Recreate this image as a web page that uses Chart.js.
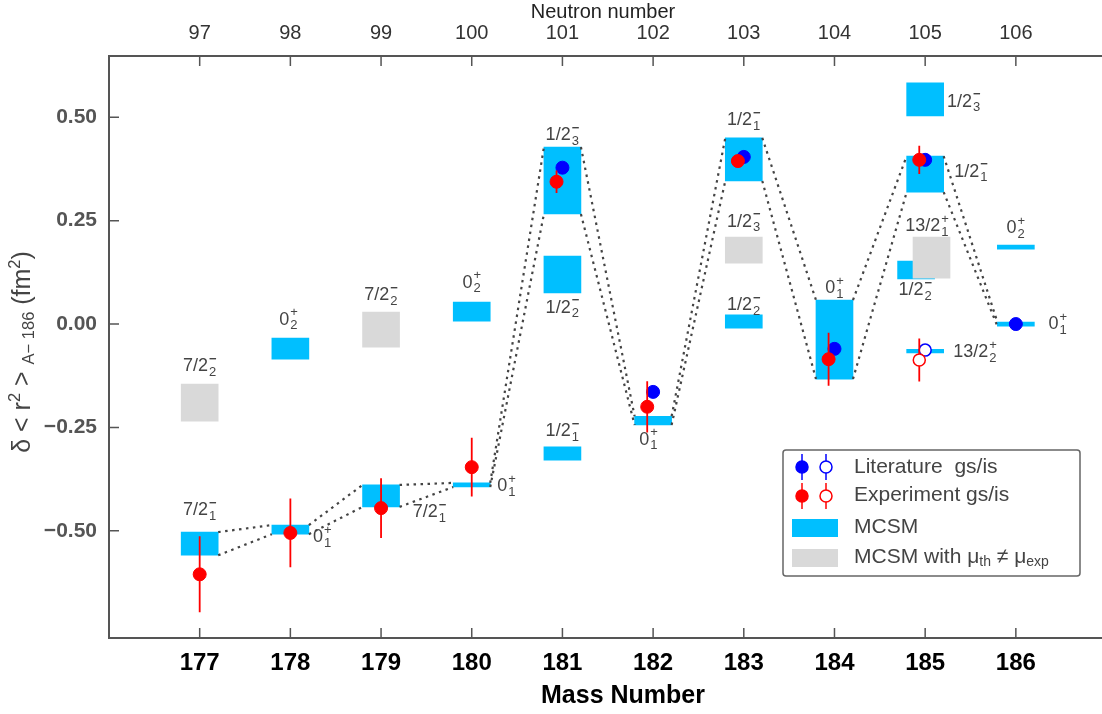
<!DOCTYPE html>
<html>
<head>
<meta charset="utf-8">
<script src="https://cdn.jsdelivr.net/npm/chart.js@4.4.1/dist/chart.umd.min.js"></script>
<style>
  html, body { margin: 0; padding: 0; background: #fff; }
  #wrap { width: 1102px; height: 714px; }
</style>
</head>
<body>
<div id="wrap"><canvas id="chart" width="1102" height="714"></canvas></div>
<script>
// axis ticks
const massNumbers = [177, 178, 179, 180, 181, 182, 183, 184, 185, 186];
const neutronNumbers = [97, 98, 99, 100, 101, 102, 103, 104, 105, 106];
const yTicks = [-0.5, -0.25, 0, 0.25, 0.5];

// MCSM ground-state boxes, one per mass number (joined by the dotted lines)
const gsLow  = [-0.559, -0.508, -0.442, -0.394, 0.266, -0.244, 0.346, -0.133, 0.319, -0.005];
const gsHigh = [-0.503, -0.486, -0.389, -0.384, 0.428, -0.223, 0.450,  0.058, 0.406,  0.005];

// other MCSM states: [mass, low, high]
const excitedBoxes = [
  [178, -0.085, -0.034],
  [180, 0.007, 0.053],
  [181, 0.075, 0.164],
  [181, -0.329, -0.297],
  [183, -0.010, 0.022],
  [185, 0.503, 0.583],
  [184.9, 0.109, 0.152],
  [185, -0.070, -0.061],
  [186, 0.181, 0.191]
];

// MCSM with mu_th != mu_exp: [mass, low, high]
const muBoxes = [
  [177, -0.235, -0.145],
  [179, -0.056, 0.029],
  [183, 0.147, 0.210],
  [185.07, 0.111, 0.210]
];

// experiment (this work)
const expMass  = [177, 178, 179, 180, 181, 182, 183, 184, 185];
const expGs    = [-0.605, -0.505, -0.445, -0.346, 0.344, -0.200, 0.394, -0.085, 0.397];
const expGsErr = [0.092, 0.083, 0.072, 0.071, 0.027, 0.062, 0.008, 0.064, 0.034];
const expIsMass = [185];
const expIs     = [-0.087];
const expIsErr  = [0.052];

// literature
const litMass   = [181, 182, 183, 184, 185, 186];
const litGs     = [0.378, -0.164, 0.404, -0.060, 0.397, 0.000];
const litIsMass = [185];
const litIs     = [-0.063];

// state labels: [mass, value, base, sub, sup, align]
const stateLabels = [
  [177.0, -0.102, '7/2', '2', '−', 'center'],
  [177.0, -0.450, '7/2', '1', '−', 'center'],
  [178.25, -0.515, '0', '1', '+', 'left'],
  [177.98, 0.010, '0', '2', '+', 'center'],
  [179.0, 0.070, '7/2', '2', '−', 'center'],
  [179.35, -0.455, '7/2', '1', '−', 'left'],
  [180.0, 0.100, '0', '2', '+', 'center'],
  [180.28, -0.392, '0', '1', '+', 'left'],
  [181.0, 0.457, '1/2', '3', '−', 'center'],
  [181.0, 0.039, '1/2', '2', '−', 'center'],
  [181.0, -0.259, '1/2', '1', '−', 'center'],
  [181.95, -0.280, '0', '1', '+', 'center'],
  [183.0, 0.493, '1/2', '1', '−', 'center'],
  [183.0, 0.247, '1/2', '3', '−', 'center'],
  [183.0, 0.046, '1/2', '2', '−', 'center'],
  [184.0, 0.087, '0', '1', '+', 'center'],
  [185.24, 0.537, '1/2', '3', '−', 'left'],
  [185.32, 0.368, '1/2', '1', '−', 'left'],
  [185.02, 0.237, '13/2', '1', '+', 'center'],
  [184.89, 0.082, '1/2', '2', '−', 'center'],
  [185.31, -0.068, '13/2', '2', '+', 'left'],
  [186.0, 0.232, '0', '2', '+', 'center'],
  [186.36, 0.000, '0', '1', '+', 'left']
];

const FONT = 'Liberation Sans, Arial, sans-serif';
const BLUE_BOX = '#00bfff';
const GRAY_BOX = '#d9d9d9';
const BOX_HALF = 0.204;   // half of barThickness in mass units
const RED_SHIFT = -0.065; // red point drawn beside a blue one

const boxData = massNumbers.map((m, i) => ({ x: m, y: [gsLow[i], gsHigh[i]] }))
  .concat(excitedBoxes.map(b => ({ x: b[0], y: [b[1], b[2]] })));
const muData = muBoxes.map(b => ({ x: b[0], y: [b[1], b[2]] }));

// dotted lines between neighbouring ground-state boxes
const chainData = [];
for (let i = 0; i < massNumbers.length - 1; i++) {
  const a = massNumbers[i] + BOX_HALF, b = massNumbers[i + 1] - BOX_HALF;
  chainData.push({ x: a, y: gsHigh[i] }, { x: b, y: gsHigh[i + 1] }, { x: b, y: null });
  chainData.push({ x: a, y: gsLow[i] }, { x: b, y: gsLow[i + 1] }, { x: b, y: null });
}

const redX = m => m + (litMass.includes(m) ? RED_SHIFT : 0);
const expGsData = expMass.map((m, i) => ({ x: redX(m), y: expGs[i] }));
const expIsData = expIsMass.map((m, i) => ({ x: redX(m), y: expIs[i] }));
const errData = [];
expMass.forEach((m, i) => {
  errData.push({ x: redX(m), y: expGs[i] - expGsErr[i] }, { x: redX(m), y: expGs[i] + expGsErr[i] }, { x: redX(m), y: null });
});
expIsMass.forEach((m, i) => {
  errData.push({ x: redX(m), y: expIs[i] - expIsErr[i] }, { x: redX(m), y: expIs[i] + expIsErr[i] }, { x: redX(m), y: null });
});
const litGsData = litMass.map((m, i) => ({ x: m, y: litGs[i] }));
const litIsData = litIsMass.map((m, i) => ({ x: m, y: litIs[i] }));

function drawState(ctx, px, py, base, sub, sup, align) {
  ctx.font = '18px ' + FONT;
  const wb = ctx.measureText(base).width;
  ctx.font = '13px ' + FONT;
  const ws = Math.max(ctx.measureText(sub).width, ctx.measureText(sup).width);
  const x0 = align === 'center' ? px - (wb + 1 + ws) / 2 : px;
  ctx.fillStyle = '#444';
  ctx.textAlign = 'left';
  ctx.textBaseline = 'middle';
  ctx.font = '18px ' + FONT;
  ctx.fillText(base, x0, py);
  ctx.font = '13px ' + FONT;
  ctx.fillText(sub, x0 + wb + 1, py + 6);
  ctx.font = (sup === '−' ? 'bold ' : '') + '13px ' + FONT;
  ctx.fillText(sup, x0 + wb + 1, py - 7);
}

// parts: [text, font, dy]
function drawRich(ctx, parts, x, y, align) {
  let w = 0;
  parts.forEach(p => { ctx.font = p[1]; w += ctx.measureText(p[0]).width; });
  let cx = align === 'center' ? x - w / 2 : x;
  ctx.textAlign = 'left';
  ctx.textBaseline = 'middle';
  parts.forEach(p => {
    ctx.font = p[1];
    ctx.fillText(p[0], cx, y + p[2]);
    cx += ctx.measureText(p[0]).width;
  });
}

const decor = {
  id: 'decor',
  afterDatasetsDraw(chart) {
    const { ctx, scales: { x, y } } = chart;
    ctx.save();
    stateLabels.forEach(l => drawState(ctx, x.getPixelForValue(l[0]), y.getPixelForValue(l[1]), l[2], l[3], l[4], l[5]));
    ctx.restore();
  },
  afterDraw(chart) {
    const { ctx, chartArea: a, scales } = chart;
    ctx.save();
    // inward tick marks
    ctx.strokeStyle = '#555';
    ctx.lineWidth = 1.5;
    ctx.beginPath();
    scales.x.ticks.forEach(t => {
      const p = scales.x.getPixelForValue(t.value);
      ctx.moveTo(p, a.bottom); ctx.lineTo(p, a.bottom - 10);
    });
    scales.x2.ticks.forEach(t => {
      const p = scales.x2.getPixelForValue(t.value);
      ctx.moveTo(p, a.top); ctx.lineTo(p, a.top + 10);
    });
    scales.y.ticks.forEach(t => {
      const p = scales.y.getPixelForValue(t.value);
      ctx.moveTo(a.left, p); ctx.lineTo(a.left + 10, p);
    });
    ctx.stroke();

    // axis titles
    ctx.fillStyle = '#222';
    ctx.textAlign = 'center';
    ctx.textBaseline = 'middle';
    ctx.font = '20px ' + FONT;
    ctx.fillText('Neutron number', 603, 12);
    ctx.fillStyle = '#000';
    ctx.font = 'bold 25px ' + FONT;
    ctx.fillText('Mass Number', 623, 696);

    ctx.save();
    ctx.translate(23, 352);
    ctx.rotate(-Math.PI / 2);
    ctx.fillStyle = '#444';
    const m = '25px ' + FONT, s = '16.5px ' + FONT;
    drawRich(ctx, [['δ < r', m, 0], ['2', s, -8], [' > ', m, 0], ['A− 186', s, 6],
      [' (fm', m, 0], ['2', s, -8], [')', m, 0]], 0, 0, 'center');
    ctx.restore();

    // legend
    ctx.fillStyle = '#fff';
    ctx.strokeStyle = '#666';
    ctx.lineWidth = 1.5;
    ctx.beginPath();
    ctx.roundRect(783, 450, 297, 126, 3);
    ctx.fill();
    ctx.stroke();
    const sym = (cx, cy, color, open) => {
      ctx.strokeStyle = color;
      ctx.lineWidth = 1.5;
      ctx.beginPath(); ctx.moveTo(cx, cy - 13); ctx.lineTo(cx, cy + 13); ctx.stroke();
      ctx.beginPath(); ctx.arc(cx, cy, 6, 0, Math.PI * 2);
      ctx.fillStyle = open ? '#fff' : color;
      ctx.fill();
      ctx.stroke();
    };
    sym(802, 467, '#0000ff', false); sym(826, 467, '#0000ff', true);
    sym(802, 496, '#ff0000', false); sym(826, 496, '#ff0000', true);
    ctx.fillStyle = BLUE_BOX; ctx.fillRect(792, 519, 46, 18);
    ctx.fillStyle = GRAY_BOX; ctx.fillRect(792, 549, 46, 18);
    ctx.fillStyle = '#444';
    const lf = '21px ' + FONT, ls = '14px ' + FONT;
    drawRich(ctx, [['Literature  gs/is', lf, 0]], 854, 467, 'left');
    drawRich(ctx, [['Experiment gs/is', lf, 0]], 854, 495, 'left');
    drawRich(ctx, [['MCSM', lf, 0]], 854, 527, 'left');
    drawRich(ctx, [['MCSM with μ', lf, 0], ['th', ls, 5], [' ≠ μ', lf, 0], ['exp', ls, 5]], 854, 557, 'left');
    ctx.restore();
  }
};

new Chart(document.getElementById('chart'), {
  type: 'scatter',
  data: {
    datasets: [
      { type: 'line', data: expGsData, showLine: false, pointRadius: 6.5, pointBackgroundColor: '#ff0000', pointBorderColor: '#ff0000', order: 0 },
      { type: 'line', data: expIsData, showLine: false, pointRadius: 6, pointBackgroundColor: '#fff', pointBorderColor: '#ff0000', pointBorderWidth: 1.5, order: 0 },
      { type: 'line', data: errData, showLine: true, spanGaps: false, pointRadius: 0, borderColor: '#ff0000', borderWidth: 1.8, order: 1 },
      { type: 'line', data: litGsData, showLine: false, pointRadius: 6.5, pointBackgroundColor: '#0000ff', pointBorderColor: '#0000ff', order: 2 },
      { type: 'line', data: litIsData, showLine: false, pointRadius: 6, pointBackgroundColor: '#fff', pointBorderColor: '#0000ff', pointBorderWidth: 1.5, order: 2 },
      { type: 'line', data: chainData, showLine: true, spanGaps: false, pointRadius: 0, borderColor: '#444', borderWidth: 2.2, borderDash: [2.5, 4.5], order: 4 },
      { type: 'bar', data: muData, backgroundColor: GRAY_BOX, barThickness: 37, grouped: false, borderWidth: 0, order: 5 },
      { type: 'bar', data: boxData, backgroundColor: BLUE_BOX, barThickness: 37, grouped: false, borderWidth: 0, order: 6 }
    ]
  },
  options: {
    responsive: false,
    animation: false,
    layout: { padding: 0, autoPadding: false },
    plugins: { legend: { display: false }, tooltip: { enabled: false } },
    scales: {
      x: {
        type: 'linear', position: 'bottom', min: 176, max: 186.95, offset: false,
        afterBuildTicks: s => { s.ticks = massNumbers.map(v => ({ value: v })); },
        afterFit: s => { s.height = 76; },
        grid: { display: false, drawTicks: false },
        border: { display: true, color: '#555', width: 2 },
        ticks: { padding: 11, color: '#000', font: { family: FONT, size: 24, weight: 'bold' }, maxRotation: 0, autoSkip: false }
      },
      x2: {
        type: 'linear', position: 'top', min: 96, max: 106.95, offset: false,
        afterBuildTicks: s => { s.ticks = neutronNumbers.map(v => ({ value: v })); },
        afterFit: s => { s.height = 56; },
        grid: { display: false, drawTicks: false },
        border: { display: true, color: '#555', width: 2 },
        ticks: { padding: 11, color: '#333', font: { family: FONT, size: 20 }, maxRotation: 0, autoSkip: false }
      },
      y: {
        type: 'linear', min: -0.759, max: 0.648, beginAtZero: false,
        afterBuildTicks: s => { s.ticks = yTicks.map(v => ({ value: v })); },
        afterFit: s => { s.width = 109; },
        grid: { display: false, drawTicks: false },
        border: { display: true, color: '#555', width: 2 },
        ticks: {
          padding: 12, color: '#555', font: { family: FONT, size: 21, weight: 'bold' },
          callback: v => (v < 0 ? '−' : '') + Math.abs(v).toFixed(2)
        }
      }
    }
  },
  plugins: [decor]
});
</script>
</body>
</html>
